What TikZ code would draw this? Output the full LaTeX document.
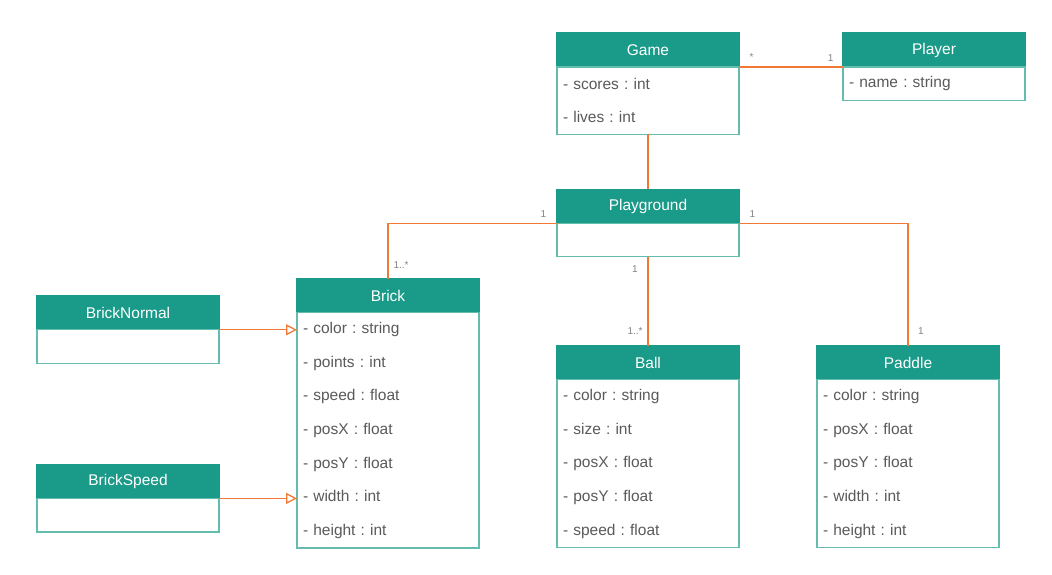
\documentclass[tikz,border=0pt]{standalone}
\usepackage{fontspec}
\setmainfont{Liberation Sans}
\usetikzlibrary{positioning,arrows.meta}
\definecolor{headteal}{RGB}{26,154,136}
\definecolor{boxteal}{RGB}{100,188,175}
\definecolor{linkorange}{RGB}{242,121,52}
\definecolor{attrgray}{RGB}{90,90,90}
\definecolor{multgray}{RGB}{130,130,130}

\begin{document}
\begin{tikzpicture}[node distance=0pt,
  classhead/.style={rectangle, fill=headteal, draw=headteal, line width=1.3pt, outer sep=0pt,
    text=white, minimum width=182pt, minimum height=34pt, inner sep=0pt,
    font=\fontsize{15.5}{18}\selectfont},
  classbody/.style={rectangle, draw=boxteal, line width=1.3pt, outer sep=0pt, fill=white,
    minimum width=182pt, text width=170pt, inner xsep=6pt, inner ysep=0pt, align=left,
    text=attrgray, font=\fontsize{15.5}{33.6}\selectfont\frenchspacing},
  rows/.style={minimum height=#1*33.6pt},
  link/.style={draw=linkorange, line width=1.3pt},
  inherit/.style={link, -{Triangle[open, length=11pt, width=11pt]}},
  mult/.style={font=\fontsize{10}{11}\selectfont, text=multgray, inner sep=0pt}]
  \useasboundingbox (0,0) rectangle (1052pt,574pt);

  % Game and Player
  \node[classhead] (game) at (648pt,524pt) {Game};
  \node[classbody, rows=2, below=of game] (game-b) {- scores : int\\- lives : int};
  \node[classhead, right=104pt of game] (player) {Player};
  \node[classbody, rows=1, below=of player] (player-b) {- name : string};

  % Playground
  \node[classhead, below=55pt of game-b] (playground) {Playground};
  \node[classbody, rows=1, below=of playground] (playground-b) {};

  % Ball, Brick, Paddle
  \node[classhead, below=89pt of playground-b] (ball) {Ball};
  \node[classbody, rows=5, below=of ball] (ball-b)
    {- color : string\\- size : int\\- posX : float\\- posY : float\\- speed : float};
  \node[classhead, below left=22pt and 78pt of playground-b] (brick) {Brick};
  \node[classbody, rows=7, below=of brick] (brick-b)
    {- color : string\\- points : int\\- speed : float\\- posX : float\\- posY : float\\- width : int\\- height : int};
  \node[classhead, below right=89pt and 78pt of playground-b] (paddle) {Paddle};
  \node[classbody, rows=5, below=of paddle] (paddle-b)
    {- color : string\\- posX : float\\- posY : float\\- width : int\\- height : int};

  % Brick subclasses
  \node[classhead, left=78pt of brick.south west] (bricknormal) {BrickNormal};
  \node[classbody, rows=1, below=of bricknormal] (bricknormal-b) {};
  \node[classhead, below=101pt of bricknormal-b] (brickspeed) {BrickSpeed};
  \node[classbody, rows=1, below=of brickspeed] (brickspeed-b) {};

  % associations
  \draw[link] (game.south east) -- node[mult, pos=0.12, yshift=10pt] {*}
    node[mult, pos=0.88, yshift=9pt] {1} (player.south west);
  \draw[link] (game-b) -- (playground);
  \draw[link] (playground.south west) -| node[mult, pos=0.04, yshift=9pt] {1}
    node[mult, pos=0.88, xshift=13pt] {1..*} (brick);
  \draw[link] (playground-b) -- node[mult, pos=0.14, xshift=-13pt] {1}
    node[mult, pos=0.83, xshift=-13pt] {1..*} (ball);
  \draw[link] (playground.south east) -| node[mult, pos=0.04, yshift=9pt] {1}
    node[mult, pos=0.94, xshift=13pt] {1} (paddle);

  % generalisations
  \draw[inherit] (bricknormal.south east) -- (bricknormal.south east -| brick-b.west);
  \draw[inherit] (brickspeed.south east) -- (brickspeed.south east -| brick-b.west);
\end{tikzpicture}
\end{document}
